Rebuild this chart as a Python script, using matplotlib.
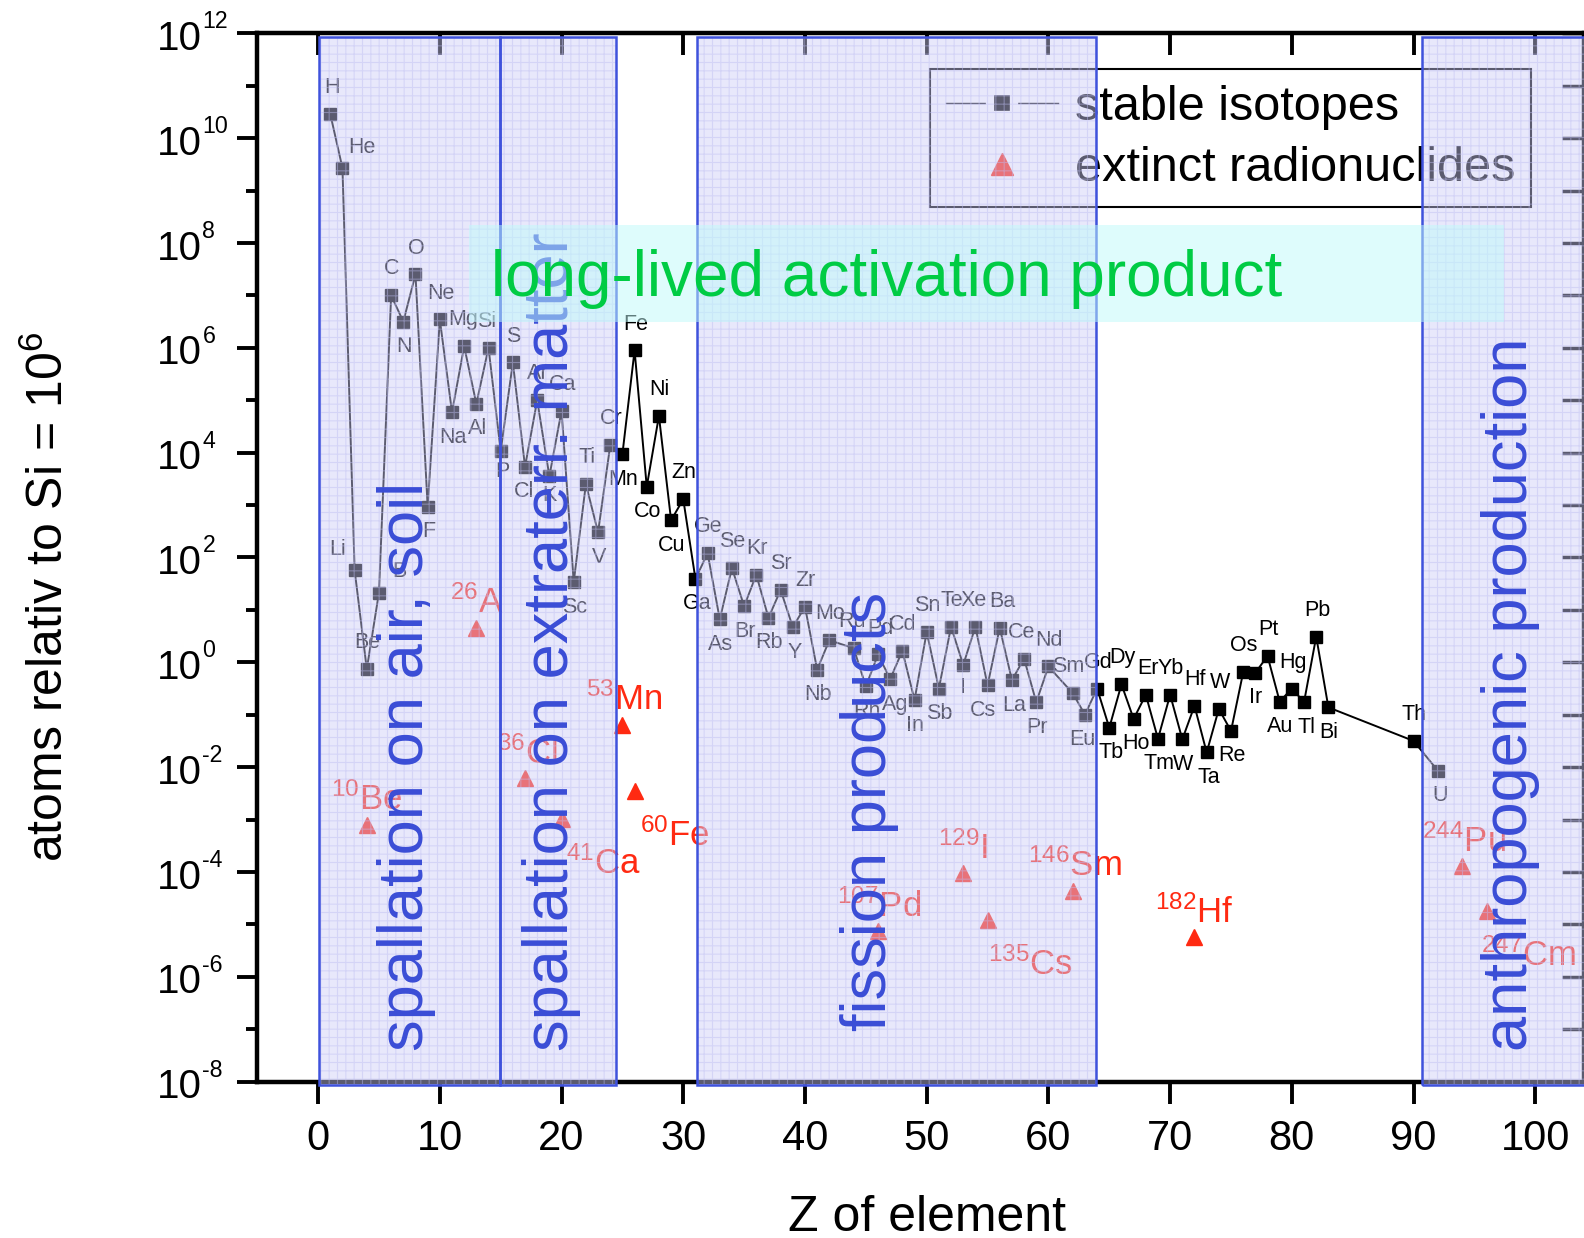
#!/usr/bin/env python3
"""Solar system abundances with extinct radionuclides and production regions."""

import matplotlib

matplotlib.use("Agg")
import matplotlib.pyplot as plt
from matplotlib.lines import Line2D
from matplotlib.patches import Rectangle
from matplotlib.ticker import NullFormatter

plt.rcParams["font.family"] = ["Liberation Sans", "DejaVu Sans"]
plt.rcParams["mathtext.fontset"] = "custom"
plt.rcParams["mathtext.rm"] = "Liberation Sans"
plt.rcParams["mathtext.it"] = "Liberation Sans:italic"
plt.rcParams["mathtext.bf"] = "Liberation Sans:bold"
plt.rcParams["mathtext.default"] = "regular"
plt.rcParams["hatch.linewidth"] = 0.8

# ---------------------------------------------------------------------------
# Data (log10 of atoms relative to Si = 1e6)
# ---------------------------------------------------------------------------

Z_STABLE = [1, 2, 3, 4, 5, 6, 7, 8, 9, 10, 11, 12, 13, 14, 15, 16, 17, 18, 19, 20,
            21, 22, 23, 24, 25, 26, 27, 28, 29, 30, 31, 32, 33, 34, 35, 36, 37, 38,
            39, 40, 41, 42, 44, 45, 46, 47, 48, 49, 50, 51, 52, 53, 54, 55, 56, 57,
            58, 59, 60, 62, 63, 64, 65, 66, 67, 68, 69, 70, 71, 72, 73, 74, 75, 76,
            77, 78, 79, 80, 81, 82, 83, 90, 92]
SYMBOLS = ["H", "He", "Li", "Be", "B", "C", "N", "O", "F", "Ne", "Na", "Mg", "Al", "Si",
           "P", "S", "Cl", "Ar", "K", "Ca", "Sc", "Ti", "V", "Cr", "Mn", "Fe", "Co", "Ni",
           "Cu", "Zn", "Ga", "Ge", "As", "Se", "Br", "Kr", "Rb", "Sr", "Y", "Zr", "Nb",
           "Mo", "Ru", "Rh", "Pd", "Ag", "Cd", "In", "Sn", "Sb", "Te", "I", "Xe", "Cs",
           "Ba", "La", "Ce", "Pr", "Nd", "Sm", "Eu", "Gd", "Tb", "Dy", "Ho", "Er", "Tm",
           "Yb", "W", "Hf", "Ta", "W", "Re", "Os", "Ir", "Pt", "Au", "Hg", "Tl", "Pb",
           "Bi", "Th", "U"]
LOG_ABUNDANCE = [10.46, 9.43, 1.76, -0.13, 1.33, 7.00, 6.50, 7.40, 2.97, 6.54, 4.77,
                 6.03, 4.93, 6.00, 4.03, 5.72, 3.73, 5.00, 3.55, 4.80, 1.53, 3.40, 2.48,
                 4.14, 3.97, 5.95, 3.35, 4.70, 2.71, 3.11, 1.59, 2.08, 0.82, 1.80, 1.07,
                 1.67, 0.85, 1.38, 0.67, 1.06, -0.14, 0.42, 0.27, -0.46, 0.15, -0.32,
                 0.22, -0.72, 0.58, -0.50, 0.68, -0.05, 0.68, -0.44, 0.66, -0.34, 0.07,
                 -0.76, -0.08, -0.59, -1.00, -0.50, -1.25, -0.42, -1.08, -0.62, -1.46,
                 -0.62, -1.47, -0.83, -1.72, -0.89, -1.31, -0.19, -0.20, 0.12, -0.75,
                 -0.50, -0.76, 0.49, -0.86, -1.50, -2.07]

Z_EXTINCT = [4, 13, 17, 20, 25, 26, 46, 53, 55, 62, 72, 94, 96]
MASS_EXTINCT = [10, 26, 36, 41, 53, 60, 107, 129, 135, 146, 182, 244, 247]
SYM_EXTINCT = ["Be", "A", "Cl", "Ca", "Mn", "Fe", "Pd", "I", "Cs", "Sm", "Hf", "Pu", "Cm"]
LOG_EXTINCT = [-3.10, 0.66, -2.21, -2.99, -1.19, -2.45, -5.13, -4.02, -4.92, -4.36,
               -5.24, -3.89, -4.74]

REGION_LEFT = [0.1, 14.94, 31.13, 90.73]
REGION_RIGHT = [14.94, 24.49, 63.9, 106.0]
REGION_LABELS = ["spallation on air, soil", "spallation on extraterr. matter",
                 "fission products", "anthropogenic production"]

BAND_Z = (12.37, 97.45)
BAND_LOG = (6.50, 8.35)
BAND_LABEL = "long-lived activation product"

# ---------------------------------------------------------------------------
# Styling / label placement
# ---------------------------------------------------------------------------

RED = "#ff2a12"
BLUE = "#3a4dd6"
EDGE_BLUE = "#3f52dc"
GREEN = "#00cc44"

REGION_TEXT_X = [7.26, 19.17, 45.3, 98.0]
REGION_TEXT_LOG = [-7.42, -7.42, -7.03, -7.42]

# element label offsets in points (dx, dy); default: even Z above, odd Z below
SPECIAL_OFFSET = {1: (1, 19), 2: (14, 15), 3: (-12, 15), 5: (14.5, 15),
                  15: (1, -15), 19: (0, -14), 53: (0, -16), 92: (1.5, -18)}
DX_BY_Z = {12: -1, 13: 1, 14: -1, 17: -1, 24: 1, 31: 1.5, 39: 1.5, 44: -1.5,
           46: 1.5, 47: 3.5, 54: -1.5, 55: -3, 56: 1.5, 57: 1.5, 58: -2, 62: -3.5,
           63: -1.5, 65: 1.5, 67: 1.5, 68: 1.5, 73: 1.5, 81: 1.5}

# extinct labels: dx for labels set below-right, dx for labels set above
EXTINCT_BELOW = {20: 3, 26: 4, 55: 0, 96: -4}
EXTINCT_DX_ABOVE = {17: 2, 25: 1.5, 46: 1, 62: 1.5, 94: 1.5}


def draw_regions(ax):
    bottom, top = 10 ** -8.06, 10 ** 11.92
    for left, right in zip(REGION_LEFT, REGION_RIGHT):
        ax.add_patch(Rectangle((left, bottom), right - left, top - bottom,
                               facecolor=(0.80, 0.80, 0.967), edgecolor=(0.74, 0.74, 0.95),
                               hatch="++", linewidth=0, alpha=0.45, zorder=5,
                               clip_on=False))
        ax.add_patch(Rectangle((left, bottom), right - left, top - bottom,
                               facecolor="none", edgecolor=EDGE_BLUE, linewidth=1.8,
                               zorder=5.5, clip_on=False))
    for label, x, ylog in zip(REGION_LABELS, REGION_TEXT_X, REGION_TEXT_LOG):
        ax.text(x, 10 ** ylog, label, rotation=90, ha="center", va="bottom",
                fontsize=45.5, color=BLUE, zorder=6)

    ax.add_patch(Rectangle((BAND_Z[0], 10 ** BAND_LOG[0]), BAND_Z[1] - BAND_Z[0],
                           10 ** BAND_LOG[1] - 10 ** BAND_LOG[0],
                           facecolor=(0.75, 0.98, 0.98), edgecolor="none",
                           alpha=0.5, zorder=7))
    ax.text(46.7, 10 ** 6.985, BAND_LABEL, ha="center", va="baseline",
            fontsize=46, color=GREEN, zorder=8)


def draw_data(ax):
    ys = [10 ** v for v in LOG_ABUNDANCE]
    ax.plot(Z_STABLE, ys, color="black", linewidth=1.4, marker="s", markersize=8.5,
            markerfacecolor="black", markeredgecolor="black", zorder=3)
    for z, sym, y in zip(Z_STABLE, SYMBOLS, ys):
        if z in SPECIAL_OFFSET:
            dx, dy = SPECIAL_OFFSET[z]
        elif z % 2 == 0:
            dx, dy = DX_BY_Z.get(z, 0.5), 19
        else:
            dx, dy = DX_BY_Z.get(z, 0.5), -18
        ax.annotate(sym, (z, y), xytext=(dx, dy), textcoords="offset points",
                    ha="center", va="center", fontsize=15.5, color="black", zorder=3)

    ye = [10 ** v for v in LOG_EXTINCT]
    ax.plot(Z_EXTINCT, ye, linestyle="none", marker="^", markersize=12, color=RED,
            zorder=3)
    for z, m, sym, y in zip(Z_EXTINCT, MASS_EXTINCT, SYM_EXTINCT, ye):
        text = f"$^{{{m}}}$" + sym
        if z in EXTINCT_BELOW:
            ax.annotate(text, (z, y), xytext=(EXTINCT_BELOW[z], -39.5),
                        textcoords="offset points", ha="left", va="baseline",
                        fontsize=25, color=RED, zorder=3)
        else:
            ax.annotate(text, (z, y), xytext=(EXTINCT_DX_ABOVE.get(z, 0), 10.5),
                        textcoords="offset points", ha="center", va="baseline",
                        fontsize=25, color=RED, zorder=3)


def style_axes(fig, ax):
    ax.set_yscale("log")
    ax.set_xlim(-5, 104)
    ax.set_ylim(1e-8, 1e12)

    ax.set_xticks(range(0, 101, 10))
    ax.set_xticklabels([str(v) for v in range(0, 101, 10)], fontsize=30)
    ax.set_yticks([10.0 ** k for k in range(-8, 13, 2)])
    ax.set_yticks([10.0 ** k for k in range(-7, 12, 2)], minor=True)
    ax.yaxis.set_major_formatter(NullFormatter())
    ax.yaxis.set_minor_formatter(NullFormatter())
    ax.tick_params(axis="x", which="major", direction="out", length=16, width=2.8,
                   pad=11)
    ax.tick_params(axis="y", which="major", direction="out", length=14.5, width=2.8)
    ax.tick_params(axis="y", which="minor", direction="out", length=8, width=2.8)
    ax.tick_params(which="both", top=False, right=False)
    for side in ["left", "bottom", "top", "right"]:
        ax.spines[side].set_linewidth(3.2)

    # y tick labels drawn as "10" plus a small exponent
    for k in range(-8, 13, 2):
        ax.annotate("10", (0, 10.0 ** k), xycoords=("axes fraction", "data"),
                    xytext=(-40, -12), textcoords="offset points", ha="right",
                    va="baseline", fontsize=29)
        ax.annotate(str(k), (0, 10.0 ** k), xycoords=("axes fraction", "data"),
                    xytext=(-39.5, 3.6), textcoords="offset points", ha="left",
                    va="baseline", fontsize=16.7)

    # inward ticks on top and right
    ax_top = ax.twiny()
    ax_top.set_xlim(ax.get_xlim())
    ax_top.set_xticks(range(0, 101, 10))
    ax_top.tick_params(axis="x", direction="in", length=16, width=2.8,
                       labeltop=False, labelbottom=False, top=True, bottom=False)
    ax_right = ax.twinx()
    ax_right.set_yscale("log")
    ax_right.set_ylim(ax.get_ylim())
    ax_right.set_yticks([10.0 ** k for k in range(-8, 13)])
    ax_right.set_yticks([], minor=True)
    ax_right.yaxis.set_major_formatter(NullFormatter())
    ax_right.tick_params(axis="y", direction="in", length=16, width=2.5,
                         labelright=False, labelleft=False, right=True, left=False)
    for extra in (ax_top, ax_right):
        for side in extra.spines.values():
            side.set_visible(False)
        extra.set_zorder(1)
    ax.set_zorder(3)
    ax.patch.set_visible(False)

    fig.text(0.031, 0.518, "atoms relativ to Si = 10$^6$", rotation=90,
             ha="center", va="center", fontsize=36)
    fig.text(0.585, 0.006, "Z of element", ha="center", va="baseline", fontsize=36)


def draw_legend(ax):
    handles = [
        Line2D([0], [0], color="black", linewidth=1.0, marker="s", markersize=17.5,
               markerfacecolor="black", markeredgecolor="white", markeredgewidth=6),
        Line2D([0], [0], linestyle="none", marker="^", markersize=16, color=RED),
    ]
    leg = ax.legend(handles, ["stable isotopes", "extinct radionuclides"],
                    loc="upper right", bbox_to_anchor=(0.9604, 0.9662),
                    borderaxespad=0, fontsize=35, frameon=True, fancybox=False,
                    edgecolor="black", framealpha=1, borderpad=0.33,
                    handlelength=2.3, handletextpad=0.35, labelspacing=0.33)
    leg.get_frame().set_linewidth(1.5)
    leg.set_zorder(2)


def main():
    fig = plt.figure(figsize=(15.84, 12.38), dpi=100)
    fig.patch.set_facecolor("white")
    ax = fig.add_axes([0.1624, 0.1263, 0.8376, 0.8468])
    style_axes(fig, ax)
    draw_data(ax)
    draw_regions(ax)
    draw_legend(ax)
    fig.savefig("out.png", dpi=100, facecolor="white")
    plt.close(fig)


if __name__ == "__main__":
    main()
